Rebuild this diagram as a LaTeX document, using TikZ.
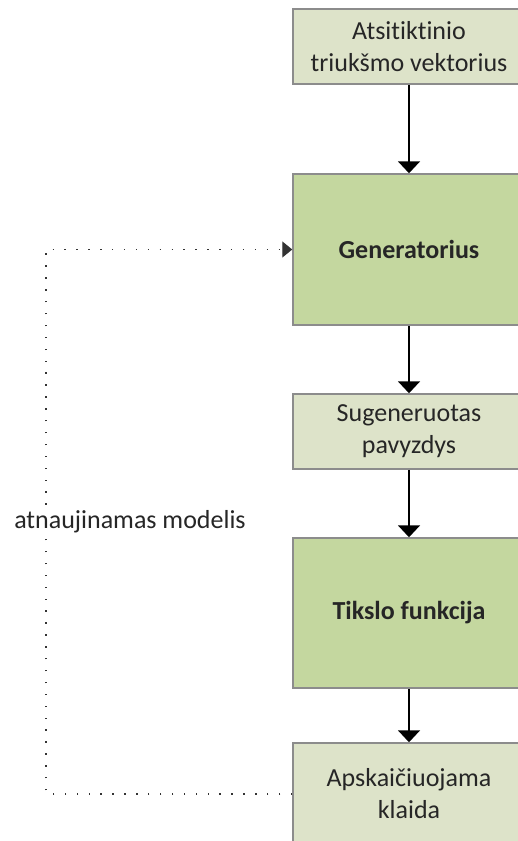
\documentclass[tikz,border=0pt]{standalone}
\usepackage{fontspec}
\setmainfont{Carlito}[Ligatures={NoCommon,NoRequired,NoContextual}]
\usetikzlibrary{arrows.meta}
\definecolor{boxlight}{HTML}{DDE3C9}
\definecolor{boxgreen}{HTML}{C4D79F}
\definecolor{boxline}{HTML}{8C8C8C}
\begin{document}
\begin{tikzpicture}[x=1pt,y=-1pt,
    box/.style={draw=boxline,line width=1.5pt,minimum width=232pt,inner sep=0pt,align=center,
      font=\fontsize{26}{32}\selectfont,text=black!85},
    flow/.style={line width=2pt,-{Triangle[width=22pt,length=12pt]}},
    loopback/.style={line width=1.4pt,black!80,dash pattern=on 1.4pt off 10.5pt,-{Triangle[width=16pt,length=10pt]}}]
  \useasboundingbox (0,0) rectangle (517,841);
  \node[box,fill=boxlight,minimum height=75pt] (noise) at (409,46.5) {Atsitiktinio\\triukšmo vektorius};
  \node[box,fill=boxgreen,minimum height=151pt,font=\fontsize{26}{32}\selectfont\bfseries] (gen) at (409,249.5) {Generatorius};
  \node[box,fill=boxlight,minimum height=75pt] (sample) at (409,431.5) {Sugeneruotas\\pavyzdys};
  \node[box,fill=boxgreen,minimum height=150pt,font=\fontsize{26}{32}\selectfont\bfseries] (target) at (409,613) {Tikslo funkcija};
  \node[box,fill=boxlight,minimum height=102pt] (err) at (409,794) {Apskaičiuojama\\klaida};
  \draw[flow] (noise) -- (gen);
  \draw[flow] (gen) -- (sample);
  \draw[flow] (sample) -- (target);
  \draw[flow] (target) -- (err);
  \coordinate (loop) at (46,0);
  \draw[loopback] (err.west) -| (loop |- gen.west) -- (gen.west);
  \node[fill=white,inner sep=2pt,font=\fontsize{26}{32}\selectfont,text=black!85] (upd) at (130,522) {atnaujinamas modelis};
\end{tikzpicture}
\end{document}
